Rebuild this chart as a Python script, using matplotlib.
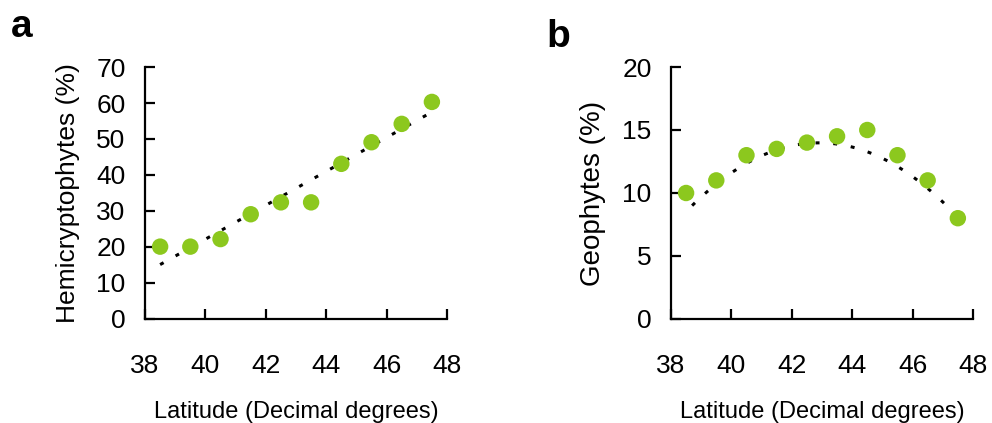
import numpy as np
import matplotlib
matplotlib.use('Agg')
import matplotlib.pyplot as plt

#------------------------------------------------------------------------------
#   Data
#------------------------------------------------------------------------------
latitude = [38.5, 39.5, 40.5, 41.5, 42.5, 43.5, 44.5, 45.5, 46.5, 47.5]
hemicryptophytes = [20.1, 20.1, 22.2, 29.1, 32.4, 32.4, 43.1, 49.1, 54.2, 60.3]
geophytes = [10.0, 11.0, 13.0, 13.5, 14.0, 14.5, 15.0, 13.0, 11.0, 8.0]

# trend line of panel b as drawn in the figure
trend_b_lat = [38.7, 40.5, 42.5, 43.5, 45.5, 46.5, 47.3]
trend_b_val = [9.0, 12.4, 13.8, 13.9, 12.2, 10.4, 8.5]

x_ticks = [38, 40, 42, 44, 46, 48]
ticks_a = [0, 10, 20, 30, 40, 50, 60, 70]
ticks_b = [0, 5, 10, 15, 20]

green = '#8CC81E'
dotted = (0, (1.3, 4.5))

plt.rcParams['font.family'] = ['Liberation Sans', 'DejaVu Sans']

fig = plt.figure(figsize=(9.92, 4.23), dpi=100)
ax_a = fig.add_axes([0.1462, 0.2459, 0.3044, 0.5957])
ax_b = fig.add_axes([0.6764, 0.2459, 0.3044, 0.5957])


def style_axis(ax, yticks):
    ax.set_xlim(38, 48)
    ax.set_ylim(yticks[0], yticks[-1])
    ax.set_xticks(x_ticks)
    ax.set_yticks(yticks)
    for side in ['top', 'right']:
        ax.spines[side].set_visible(False)
    for side in ['left', 'bottom']:
        ax.spines[side].set_linewidth(1.6)
    ax.tick_params(axis='both', direction='in', length=7, width=1.6, labelsize=19)
    ax.tick_params(axis='x', pad=25)
    ax.tick_params(axis='y', pad=14)
    ax.set_xlabel('Latitude (Decimal degrees)', fontsize=17, labelpad=17)


#   panel a - linear trend
fit_a = np.poly1d(np.polyfit(latitude, hemicryptophytes, 1))
xs = np.linspace(latitude[0], latitude[-1], 100)
ax_a.plot(xs, fit_a(xs), color='black', lw=2.2, linestyle=dotted, zorder=1)
ax_a.scatter(latitude, hemicryptophytes, s=140, color=green, edgecolors='none', zorder=2)
style_axis(ax_a, ticks_a)
ax_a.set_ylabel('Hemicryptophytes (%)', fontsize=19, labelpad=12)

#   panel b - quadratic trend
fit_b = np.poly1d(np.polyfit(trend_b_lat, trend_b_val, 2))
xs_b = np.linspace(trend_b_lat[0], trend_b_lat[-1], 100)
ax_b.plot(xs_b, fit_b(xs_b), color='black', lw=2.2, linestyle=dotted, zorder=1)
ax_b.scatter(latitude, geophytes, s=140, color=green, edgecolors='none', zorder=2)
style_axis(ax_b, ticks_b)
ax_b.set_ylabel('Geophytes (%)', fontsize=20, labelpad=12)

fig.text(0.011, 0.912, 'a', fontsize=28, fontweight='bold')
fig.text(0.551, 0.89, 'b', fontsize=28, fontweight='bold')

fig.savefig('out.png', dpi=100)
